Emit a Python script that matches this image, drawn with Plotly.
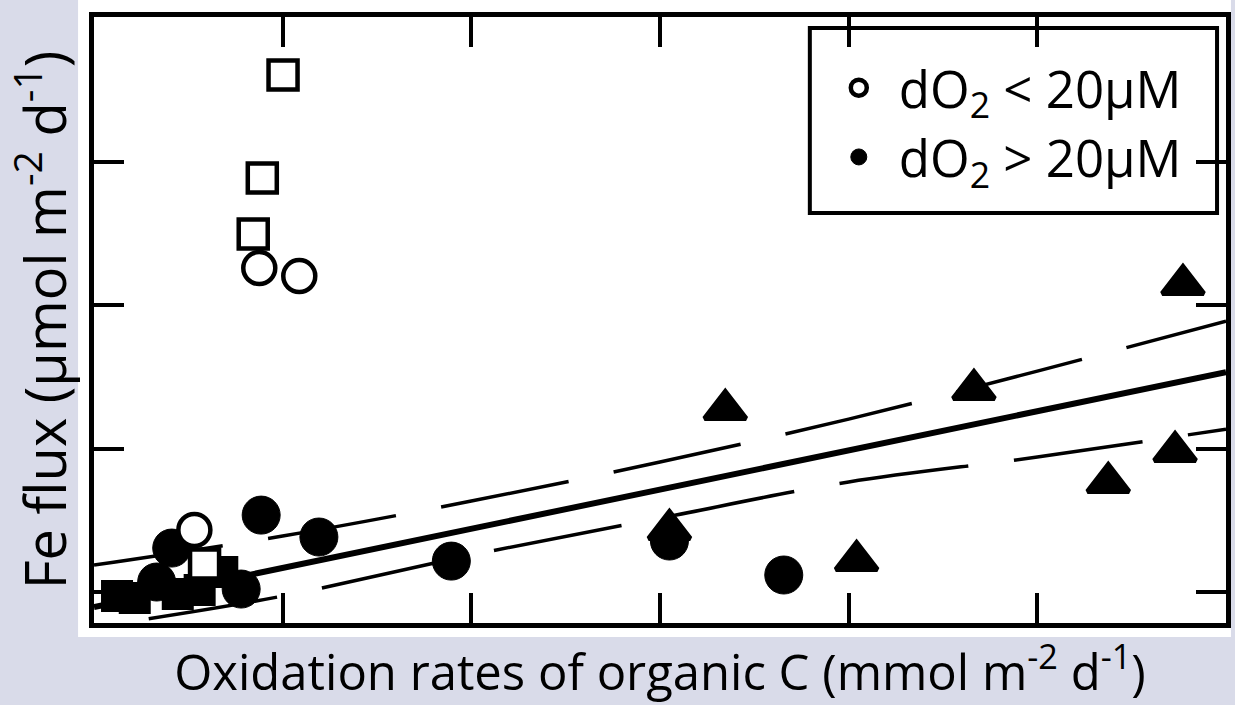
import plotly.graph_objects as go

# ---- data ----
open_sq_x = [5.01, 4.46, 4.22, 2.93]
open_sq_y = [36.08, 28.89, 24.98, 1.95]
fill_sq_x = [0.61, 1.08, 2.22, 2.80, 3.40]
fill_sq_y = [-0.28, -0.42, -0.14, 0.14, 1.40]
open_ci_x = [4.38, 5.44, 2.66]
open_ci_y = [22.61, 22.05, 4.33]
fill_ci_x = [4.43, 5.96, 9.47, 15.25, 18.28, 3.90, 2.06, 1.66]
fill_ci_y = [5.37, 3.84, 2.16, 3.56, 1.19, 0.21, 3.07, 0.70]
tri_x = [16.73, 23.32, 28.86, 28.65, 26.88, 20.21, 15.25]
tri_y = [12.74, 14.13, 21.46, 9.80, 7.64, 2.20, 4.36]
fit_x = [0, 30]
fit_y = [-1.05, 15.35]
upper_x = [0, 5, 10, 15, 20, 25, 30]
upper_y = [1.88, 3.91, 6.35, 9.07, 12.07, 15.42, 18.91]
lower_x = [1.45, 5, 10, 15, 20, 25, 30]
lower_y = [-1.86, -0.28, 2.58, 5.16, 7.68, 9.42, 11.37]
x_ticks = [5, 10, 15, 20, 25]
y_ticks = [0, 10, 20, 30]
legend_labels = ["dO<sub>2</sub> &lt; 20µM", "dO<sub>2</sub> &gt; 20µM"]
x_title = "Oxidation rates of organic C (mmol m<sup>-2</sup> d<sup>-1</sup>)"
y_title = "Fe flux (µmol m<sup>-2</sup> d<sup>-1</sup>)"

FONT = "Open Sans"
fig = go.Figure()

fig.add_trace(go.Scatter(x=upper_x, y=upper_y, mode="lines", showlegend=False,
                         line=dict(color="black", width=3.5, dash="130px,46px", shape="spline")))
fig.add_trace(go.Scatter(x=lower_x, y=lower_y, mode="lines", showlegend=False,
                         line=dict(color="black", width=3.5, dash="130px,46px", shape="spline")))
fig.add_trace(go.Scatter(x=fit_x, y=fit_y, mode="lines", showlegend=False,
                         line=dict(color="black", width=6)))

fig.add_trace(go.Scatter(x=tri_x, y=tri_y, mode="markers", showlegend=False,
                         marker=dict(symbol="triangle-up", size=36, color="black",
                                     line=dict(color="black", width=5))))
fig.add_trace(go.Scatter(x=fill_sq_x, y=fill_sq_y, mode="markers", showlegend=False,
                         marker=dict(symbol="square", size=30, color="black",
                                     line=dict(color="black", width=2))))
fig.add_trace(go.Scatter(x=fill_ci_x, y=fill_ci_y, mode="markers", name=legend_labels[1],
                         legendrank=2,
                         marker=dict(symbol="circle", size=38, color="black",
                                     line=dict(color="black", width=1))))
fig.add_trace(go.Scatter(x=open_sq_x, y=open_sq_y, mode="markers", showlegend=False,
                         marker=dict(symbol="square", size=29, color="white",
                                     line=dict(color="black", width=4.5))))
fig.add_trace(go.Scatter(x=open_ci_x, y=open_ci_y, mode="markers", name=legend_labels[0],
                         legendrank=1,
                         marker=dict(symbol="circle", size=32, color="white",
                                     line=dict(color="black", width=4.5))))

L, R, T, B = 94, 4, 17, 82
W, H = 1235, 705
pw, ph = W - L - R, H - T - B

def px_x(p):
    return (p - L) / pw

def px_y(p):
    return (H - B - p) / ph

fig.add_shape(type="rect", xref="paper", yref="paper", layer="below",
              x0=px_x(78), x1=px_x(1236), y0=px_y(637), y1=px_y(-1),
              fillcolor="white", line=dict(width=0))
fig.add_shape(type="rect", xref="paper", yref="paper", layer="above",
              x0=px_x(813), x1=px_x(1222), y0=px_y(213), y1=px_y(28),
              fillcolor="rgba(0,0,0,0)", line=dict(color="black", width=4))

axis_common = dict(showgrid=False, zeroline=False, showticklabels=False,
                   ticks="inside", ticklen=30, tickwidth=4, tickcolor="black",
                   showline=True, linewidth=5, linecolor="black", mirror="ticks")

fig.update_layout(
    width=W, height=H,
    margin=dict(l=L, r=R, t=T, b=B),
    paper_bgcolor="#d9dbe9",
    plot_bgcolor="white",
    xaxis=dict(range=[0, 30], tickvals=x_ticks,
               title=dict(text=x_title, font=dict(family=FONT, size=49, color="black"),
                          standoff=30),
               **axis_common),
    yaxis=dict(range=[-2.16, 40.13], tickvals=y_ticks,
               title=dict(text=y_title, font=dict(family=FONT, size=56, color="black"),
                          standoff=10),
               **axis_common),
    legend=dict(x=px_x(822), y=px_y(48), xanchor="left", yanchor="top",
                bgcolor="rgba(0,0,0,0)", borderwidth=0,
                font=dict(family=FONT, size=51, color="black"),
                itemwidth=70, traceorder="normal"),
    showlegend=True,
)

fig.write_html("out.html")
